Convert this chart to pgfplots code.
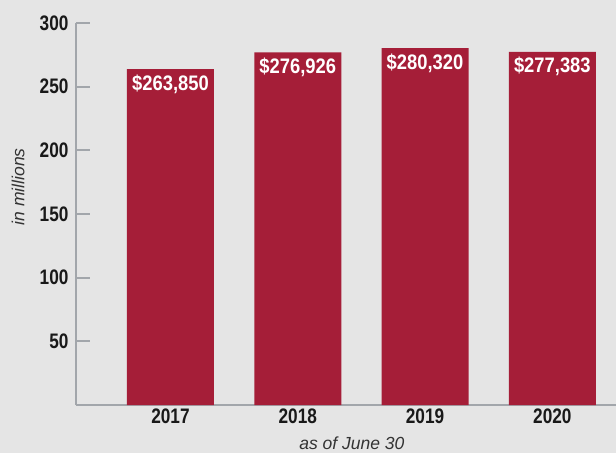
\documentclass[border=0pt]{standalone}
\usepackage{fontspec}
\setmainfont{Liberation Sans}
\newfontfamily\condfont{Liberation Sans}[FakeStretch=0.82]
\newfontfamily\barfont{Liberation Sans}[FakeStretch=0.875]
\usepackage{pgfplots}
\pgfplotsset{compat=1.18}
\definecolor{bg}{HTML}{E5E5E5}
\definecolor{barred}{HTML}{A51E38}
\definecolor{axisgray}{HTML}{A2A6AB}
\definecolor{labgray}{HTML}{333333}
\begin{document}
\begin{tikzpicture}
\fill[bg] (0,0) rectangle (616pt,453pt);
\useasboundingbox (0,0) rectangle (616pt,453pt);
\begin{axis}[
  at={(76pt,48pt)}, anchor=south west,
  scale only axis, width=540pt, height=382pt,
  xmin=-0.742, xmax=3.5, ymin=0, ymax=300,
  axis x line=bottom, axis y line=left,
  axis line style={-, draw=axisgray, line width=2pt},
  xtick={0,1,2,3}, xticklabels={2017,2018,2019,2020},
  xtick style={draw=none},
  ytick={50,100,150,200,250,300},
  y tick style={draw=axisgray, line width=2pt},
  tick align=inside, major tick length=14pt,
  /pgf/number format/assume math mode=true,
  xticklabel style={font=\condfont\bfseries\fontsize{21}{21}\selectfont, text=black!90, yshift=-0.5pt},
  yticklabel style={font=\condfont\bfseries\fontsize{21}{21}\selectfont, text=black!90, xshift=-4pt},
  xlabel={as of June 30},
  ylabel={in millions},
  xlabel style={at={(axis description cs:0.511,-0.0995)}, anchor=center, font=\itshape\fontsize{17.5}{17.5}\selectfont, text=labgray},
  ylabel style={at={(axis description cs:-0.1074,0.571)}, anchor=center, font=\itshape\fontsize{17.5}{17.5}\selectfont, text=labgray},
  clip=false,
]
\addplot[ybar, fill=barred, draw=none, bar width=87pt, bar shift=0pt,
  nodes near coords, point meta=explicit symbolic,
  nodes near coords style={anchor=north, text=white, yshift=-2pt, font=\barfont\bfseries\fontsize{21}{21}\selectfont}]
coordinates {
  (0,263.850) [\$263,850]
  (1,276.926) [\$276,926]
  (2,280.320) [\$280,320]
  (3,277.383) [\$277,383]
};
\end{axis}
\end{tikzpicture}
\end{document}
